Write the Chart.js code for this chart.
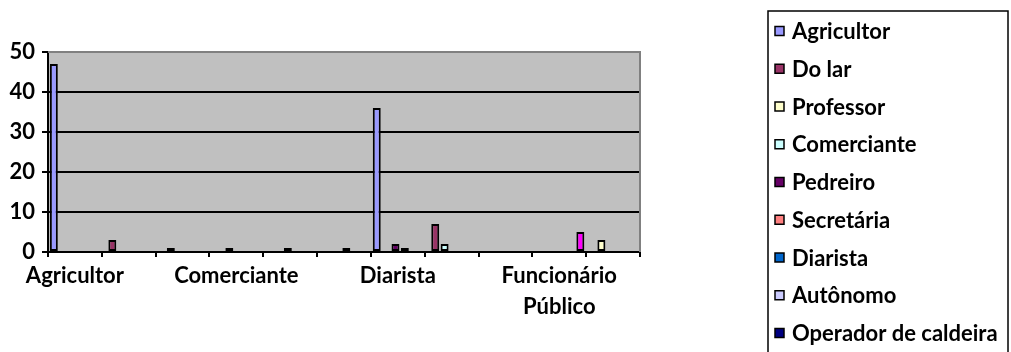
<!DOCTYPE html>
<html lang="pt">
<head>
<meta charset="utf-8">
<title>Ocupação</title>
<script src="https://cdn.jsdelivr.net/npm/chart.js@4.4.1/dist/chart.umd.min.js"></script>
<style>
  html, body { margin: 0; padding: 0; background: #ffffff; }
  canvas { display: block; }
</style>
</head>
<body>
<canvas id="chart" width="1011" height="352"></canvas>
<script>
// Categories on the horizontal axis
const categories = ['Agricultor', 'Do lar', 'Professor', 'Comerciante', 'Pedreiro', 'Secretária',
                    'Diarista', 'Autônomo', 'Operador de caldeira', 'Funcionário Público', ''];

// Series names (legend order)
const seriesNames = ['Agricultor', 'Do lar', 'Professor', 'Comerciante', 'Pedreiro', 'Secretária',
                     'Diarista', 'Autônomo', 'Operador de caldeira', 'Funcionário Público'];

// Series values, one entry per category
const agricultor   = [47, null, null, null, null, null, 36, null, null, null, null];
const doLar        = [null, 3, null, null, null, null, null, 7, null, null, null];
const professor    = [null, null, 1, null, null, null, null, null, null, null, 3];
const comerciante  = [null, null, null, 1, null, null, null, 2, null, null, null];
const pedreiro     = [null, null, null, null, 1, null, 2, null, null, null, null];
const secretaria   = [null, null, null, null, null, 1, null, null, null, null, null];
const diarista     = [null, null, null, null, null, null, 1, null, null, null, null];
const autonomo     = [null, null, null, null, null, null, null, null, null, null, null];
const operador     = [null, null, null, null, null, null, null, null, 0, null, null];
const funcPublico  = [null, null, null, null, null, null, null, null, null, 5, null];

// Y axis ticks
const yTicks = [0, 10, 20, 30, 40, 50];

const seriesValues = [agricultor, doLar, professor, comerciante, pedreiro, secretaria,
                      diarista, autonomo, operador, funcPublico];
const seriesColors = ['#9999FF', '#993366', '#FFFFCC', '#CCFFFF', '#660066', '#FF8080',
                      '#0066CC', '#CCCCFF', '#000080', '#FF00FF'];

const FONT = { family: 'Lato, "DejaVu Sans", sans-serif', size: 22, weight: 'bold' };

// Gray plot area with a gray frame on top and right
const plotArea = {
  id: 'plotArea',
  beforeDraw(chart) {
    const { ctx, chartArea: a } = chart;
    ctx.save();
    ctx.fillStyle = '#C0C0C0';
    ctx.fillRect(a.left, a.top, a.right - a.left, a.bottom - a.top);
    ctx.restore();
  },
  afterDatasetsDraw(chart) {
    const { ctx, chartArea: a } = chart;
    ctx.save();
    ctx.strokeStyle = '#808080';
    ctx.lineWidth = 2;
    ctx.beginPath();
    ctx.moveTo(a.left, a.top);
    ctx.lineTo(a.right, a.top);
    ctx.lineTo(a.right, a.bottom);
    ctx.stroke();
    ctx.restore();
  }
};

// Boxed legend on the right, one series per row
const boxLegend = {
  id: 'boxLegend',
  afterDraw(chart) {
    const ctx = chart.ctx;
    const left = 768, top = 11, right = 1008, bottom = 400;
    ctx.save();
    ctx.strokeStyle = '#000000';
    ctx.lineWidth = 1.5;
    ctx.strokeRect(left, top, right - left, bottom - top);
    ctx.font = `${FONT.weight} ${FONT.size}px ${FONT.family}`;
    ctx.textBaseline = 'middle';
    ctx.textAlign = 'left';
    chart.data.datasets.forEach((ds, i) => {
      const cy = 31 + i * 37.75;
      ctx.fillStyle = ds.backgroundColor;
      ctx.fillRect(775, cy - 4.5, 9, 9);
      ctx.lineWidth = 1.5;
      ctx.strokeStyle = '#000000';
      ctx.strokeRect(775, cy - 4.5, 9, 9);
      ctx.fillStyle = '#000000';
      ctx.fillText(ds.label, 792, cy + 1);
    });
    ctx.restore();
  }
};

new Chart(document.getElementById('chart'), {
  type: 'bar',
  data: {
    labels: categories,
    datasets: seriesNames.map((name, i) => ({
      label: name,
      data: seriesValues[i],
      backgroundColor: seriesColors[i],
      borderColor: '#000000',
      borderWidth: 2,
      borderSkipped: false,
      categoryPercentage: 0.87,
      barPercentage: 1.7
    }))
  },
  options: {
    responsive: false,
    animation: false,
    devicePixelRatio: 1,
    layout: { padding: { left: 0, right: 371, top: 52, bottom: 0 } },
    plugins: {
      legend: { display: false },
      tooltip: { enabled: false }
    },
    scales: {
      x: {
        offset: true,
        grid: {
          display: true,
          drawOnChartArea: false,
          drawTicks: true,
          tickLength: 5,
          tickColor: '#000000',
          lineWidth: 2
        },
        border: { display: true, color: '#000000', width: 2 },
        ticks: {
          autoSkip: false,
          maxRotation: 0,
          minRotation: 0,
          padding: 4,
          color: '#000000',
          font: Object.assign({}, FONT, { lineHeight: 1.38 }),
          callback: function (value, index) {
            if (index % 3 !== 0) return '';
            const name = categories[index];
            return name.includes(' ') ? name.split(' ') : name;
          }
        },
        afterFit(scale) { scale.height = 100; }
      },
      y: {
        min: 0,
        max: 50,
        afterBuildTicks(scale) { scale.ticks = yTicks.map(v => ({ value: v })); },
        grid: {
          drawTicks: true,
          tickLength: 6,
          tickColor: '#000000',
          lineWidth: 2,
          color: ctx => (ctx.tick && ctx.tick.value === 50) ? '#808080' : '#000000'
        },
        border: { display: true, color: '#000000', width: 2 },
        ticks: {
          padding: 7,
          color: '#000000',
          font: FONT
        },
        afterFit(scale) { scale.width = 48; }
      }
    }
  },
  plugins: [plotArea, boxLegend]
});
</script>
</body>
</html>
